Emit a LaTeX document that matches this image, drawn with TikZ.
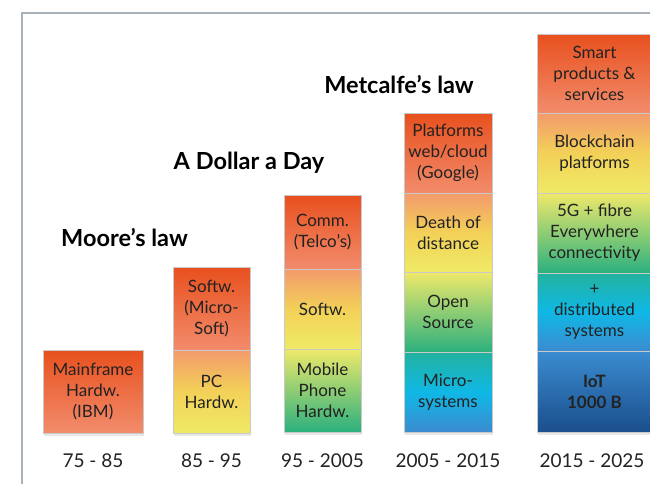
\documentclass[tikz,border=0pt]{standalone}
\usepackage{fontspec}
\setmainfont{Lato}
\usetikzlibrary{shadows}
\definecolor{frameC}{HTML}{A8B1B9}
\definecolor{boxline}{HTML}{C9C9C9}
\definecolor{txt}{HTML}{222222}
\definecolor{redT}{HTML}{E8501E}
\definecolor{redB}{HTML}{F28C6C}
\definecolor{oraT}{HTML}{F39A6C}
\definecolor{oraM}{HTML}{F5C04E}
\definecolor{yelB}{HTML}{EFEA66}
\definecolor{yelT}{HTML}{EFE96A}
\definecolor{grnB}{HTML}{2BB07E}
\definecolor{tealT}{HTML}{22B29E}
\definecolor{cyanM}{HTML}{0FB8E6}
\definecolor{bluB}{HTML}{3C8BD0}
\definecolor{bluT}{HTML}{3A8CD0}
\definecolor{dbluB}{HTML}{1B4E8C}
\begin{document}
\begin{tikzpicture}[x=1pt,y=-1pt,
  cell/.style={draw=boxline, line width=0.8pt, inner sep=0pt, outer sep=0pt,
    align=center, text=txt, font=\fontsize{17}{21}\selectfont},
  rowA/.style={top color=redT, bottom color=redB},
  rowB/.style={top color=oraT, bottom color=yelB, middle color=oraM!60!yelB},
  rowC/.style={top color=yelT, bottom color=grnB},
  rowD/.style={top color=tealT, bottom color=bluB, middle color=cyanM},
  rowE/.style={top color=bluT, bottom color=dbluB},
  shad/.style={fill=white, drop shadow={opacity=0.18, shadow xshift=1pt, shadow yshift=-3pt}},
  title/.style={font=\fontsize{23.5}{26}\selectfont\bfseries, text=black},
  year/.style={font=\fontsize{19}{22}\selectfont, text=txt}]
\useasboundingbox (0,0) rectangle (650,483);
\fill[white] (0,0) rectangle (650,483);
\draw[frameC, line width=2pt] (650,13) -- (22,13) -- (22,484);
% shadows
\path[shad] (43,350) rectangle (143,433);
\path[shad] (173,267) rectangle (250,433);
\path[shad] (284,195) rectangle (361,432);
\path[shad] (404,113) rectangle (492,432);
\path[shad] (537,34) rectangle (652,432);
% column 1
\node[cell, rowA, minimum width=100pt, minimum height=83pt] (a1) at (93,391.5) {Mainframe\\Hardw.\\(IBM)};
% column 2
\node[cell, rowB, minimum width=77pt, minimum height=83pt] (b1) at (211.5,391.5) {PC\\Hardw.};
\node[cell, rowA, minimum width=77pt, minimum height=83pt] (b2) at (211.5,308.5) {Softw.\\(Micro-\\Soft)};
% column 3
\node[cell, rowC, minimum width=77pt, minimum height=83pt] (c1) at (322.5,390.5) {Mobile\\Phone\\Hardw.};
\node[cell, rowB, minimum width=77pt, minimum height=80pt] (c2) at (322.5,309) {Softw.};
\node[cell, rowA, minimum width=77pt, minimum height=74pt] (c3) at (322.5,232) {Comm.\\(Telco’s)};
% column 4
\node[cell, rowD, minimum width=88pt, minimum height=80pt] (d1) at (448,392) {Micro-\\systems};
\node[cell, rowC, minimum width=88pt, minimum height=80pt] (d2) at (448,312) {Open\\Source};
\node[cell, rowB, minimum width=88pt, minimum height=79pt] (d3) at (448,232.5) {Death of\\distance};
\node[cell, rowA, minimum width=88pt, minimum height=80pt] (d4) at (448,153) {Platforms\\web/cloud\\(Google)};
% column 5
\node[cell, rowE, minimum width=115pt, minimum height=81pt] (e1) at (594.5,391.5) {\bfseries IoT\\\bfseries 1000 B};
\node[cell, rowD, minimum width=115pt, minimum height=78pt] (e2) at (594.5,312) {+\\distributed\\systems};
\node[cell, rowC, minimum width=115pt, minimum height=80pt] (e3) at (594.5,233) {5G + fibre\\Everywhere\\connectivity};
\node[cell, rowB, minimum width=115pt, minimum height=80pt] (e4) at (594.5,153) {Blockchain\\platforms};
\node[cell, rowA, minimum width=115pt, minimum height=79pt] (e5) at (594.5,73.5) {Smart\\products \&\\services};
% titles
\node[title] (t1) at (124.5,238) {Moore’s law};
\node[title] (t2) at (249,163) {A Dollar a Day};
\node[title] (t3) at (399,85) {Metcalfe’s law};
% years
\node[year] (y1) at (93,461) {75 - 85};
\node[year] (y2) at (211.5,461) {85 - 95};
\node[year] (y3) at (322.5,461) {95 - 2005};
\node[year] (y4) at (448,461) {2005 - 2015};
\node[year] (y5) at (592,461) {2015 - 2025};
\end{tikzpicture}
\end{document}
